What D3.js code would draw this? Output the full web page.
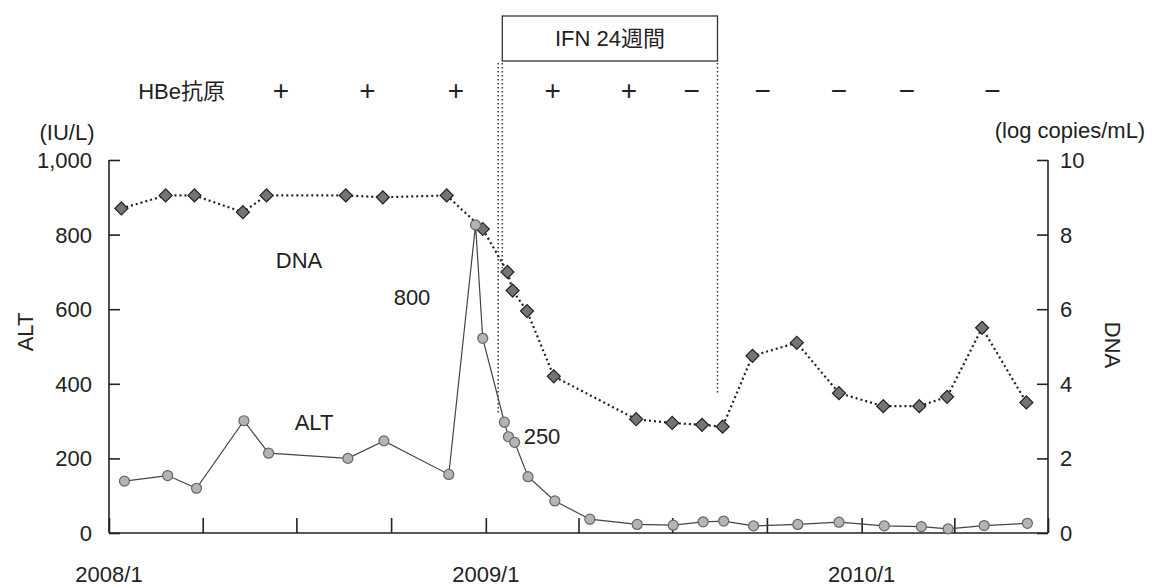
<!DOCTYPE html>
<html>
<head>
<meta charset="utf-8">
<script src="https://cdn.jsdelivr.net/npm/d3@7/dist/d3.min.js"></script>
<style>
  html, body { margin: 0; padding: 0; background: #fff; }
  svg text { font-family: "Liberation Sans", Arial, "Noto Sans CJK JP", sans-serif; fill: #222; }
</style>
</head>
<body>
<svg id="chart" width="1152" height="587"></svg>
<script>
// ---- data ----
const altDates = ["2008-01-16","2008-02-27","2008-03-26","2008-05-11","2008-06-04","2008-08-20","2008-09-24","2008-11-26","2008-12-22","2008-12-29","2009-01-19","2009-01-23","2009-01-29","2009-02-11","2009-03-09","2009-04-12","2009-05-28","2009-07-02","2009-07-31","2009-08-20","2009-09-18","2009-10-31","2009-12-10","2010-01-23","2010-02-28","2010-03-26","2010-04-30","2010-06-11"];
const altValues = [139,154,120,301,214,200,247,157,826,522,297,258,243,151,86,37,23,21,30,32,19,23,29,19,17,11,20,26];
const dnaDates = ["2008-01-13","2008-02-25","2008-03-24","2008-05-10","2008-06-02","2008-08-18","2008-09-23","2008-11-24","2008-12-29","2009-01-22","2009-01-27","2009-02-10","2009-03-08","2009-05-27","2009-07-01","2009-07-30","2009-08-19","2009-09-17","2009-10-30","2009-12-10","2010-01-22","2010-02-26","2010-03-25","2010-04-28","2010-06-10"];
const dnaValues = [8.7,9.05,9.05,8.6,9.05,9.05,9.0,9.05,8.15,7.0,6.5,5.95,4.2,3.05,2.95,2.9,2.85,4.75,5.1,3.75,3.4,3.4,3.65,5.5,3.5];
const hbeDates = ["2008-06-16","2008-09-08","2008-12-03","2009-03-07","2009-05-20","2009-07-20","2009-09-27","2009-12-10","2010-02-14","2010-05-08"];
const hbeSigns = ["+","+","+","+","+","−","−","−","−","−"];
const ifnStartDates = ["2009-01-13","2009-01-17"];
const ifnEndDate = "2009-08-14";
const altTicks = [0,200,400,600,800,1000];
const dnaTicks = [0,2,4,6,8,10];
const yearLabels = ["2008/1","2009/1","2010/1"];

// ---- setup ----
const parse = d3.timeParse("%Y-%m-%d");
const svg = d3.select("#chart");
const L = 109, R = 1048, T = 160, B = 533;
const x = d3.scaleTime().domain([new Date(2008,0,1), new Date(2010,6,1)]).range([L, R]);
const yA = d3.scaleLinear().domain([0,1000]).range([B, T]);
const yD = d3.scaleLinear().domain([0,10]).range([B, T]);
const FS = 22;

// axes
const axisColor = "#222";
const leftAxis = d3.axisRight(yA).tickValues(altTicks).tickSize(11).tickFormat("");
const gl = svg.append("g").attr("transform", `translate(${L},0)`).call(leftAxis);
const rightAxis = d3.axisLeft(yD).tickValues(dnaTicks).tickSize(11).tickFormat("");
const gr = svg.append("g").attr("transform", `translate(${R},0)`).call(rightAxis);
const monthTicks = d3.timeMonth.every(3).range(new Date(2008,0,1), new Date(2010,7,1));
const bottomAxis = d3.axisTop(x).tickValues(monthTicks).tickSize(15).tickFormat("");
const gb = svg.append("g").attr("transform", `translate(0,${B})`).call(bottomAxis);
[gl, gr, gb].forEach(g => {
  g.select(".domain").attr("stroke", axisColor).attr("stroke-width", 1.6);
  g.selectAll(".tick line").attr("stroke", axisColor).attr("stroke-width", 1.6);
});
gb.select(".domain").attr("d", `M${L},0H${R}`);
gl.select(".domain").attr("d", `M0,${T}V${B}`);
gr.select(".domain").attr("d", `M0,${T}V${B}`);

// tick labels
const fmt = d3.format(",");
svg.append("g").selectAll("text").data(altTicks).join("text")
  .attr("x", 92).attr("y", d => yA(d)).attr("dy", "0.36em")
  .attr("text-anchor", "end").attr("font-size", FS).text(d => fmt(d));
svg.append("g").selectAll("text").data(dnaTicks).join("text")
  .attr("x", 1060).attr("y", d => yD(d)).attr("dy", "0.36em")
  .attr("text-anchor", "start").attr("font-size", FS).text(d => d);
svg.append("g").selectAll("text").data(yearLabels).join("text")
  .attr("x", (d, i) => x(new Date(2008 + i, 0, 1))).attr("y", 574).attr("dy", "0.36em")
  .attr("text-anchor", "middle").attr("font-size", FS).text(d => d);

// units & axis titles
svg.append("text").attr("x", 67).attr("y", 132).attr("dy","0.36em").attr("text-anchor","middle").attr("font-size", FS).text("(IU/L)");
svg.append("text").attr("x", 1070).attr("y", 130).attr("dy","0.36em").attr("text-anchor","middle").attr("font-size", FS).text("(log copies/mL)");
svg.append("text").attr("transform", "translate(25,332) rotate(-90)").attr("dy","0.36em").attr("text-anchor","middle").attr("font-size", FS).text("ALT");
svg.append("text").attr("transform", "translate(1113,345) rotate(90)").attr("dy","0.36em").attr("text-anchor","middle").attr("font-size", FS).text("DNA");

// IFN box and lines
const boxX0 = x(parse(ifnStartDates[1])), boxX1 = x(parse(ifnEndDate));
svg.append("rect").attr("x", boxX0).attr("y", 16).attr("width", boxX1 - boxX0).attr("height", 45)
  .attr("fill", "none").attr("stroke", "#333").attr("stroke-width", 1.3);
svg.append("text").attr("x", (boxX0 + boxX1) / 2).attr("y", 38).attr("dy","0.36em")
  .attr("text-anchor","middle").attr("font-size", FS).text("IFN 24週間");
const vlines = [
  {d: ifnStartDates[0], y1: 63, y2: 415},
  {d: ifnStartDates[1], y1: 63, y2: 268},
  {d: ifnEndDate, y1: 63, y2: 395}
];
svg.append("g").selectAll("line").data(vlines).join("line")
  .attr("x1", v => x(parse(v.d))).attr("x2", v => x(parse(v.d)))
  .attr("y1", v => v.y1).attr("y2", v => v.y2)
  .attr("stroke", "#333").attr("stroke-width", 1.5).attr("stroke-dasharray", "1.5,2.5");

// HBe row
svg.append("text").attr("x", 225).attr("y", 91).attr("dy","0.36em").attr("text-anchor","end").attr("font-size", FS).text("HBe抗原");
svg.append("g").selectAll("text").data(hbeSigns).join("text")
  .attr("x", (d, i) => x(parse(hbeDates[i]))).attr("y", 90).attr("dy", "0.36em")
  .attr("text-anchor", "middle").attr("font-size", 28)
  .text(d => d);

// series
const alt = altDates.map((d, i) => ({date: parse(d), v: altValues[i]}));
const dna = dnaDates.map((d, i) => ({date: parse(d), v: dnaValues[i]}));

svg.append("path").datum(dna)
  .attr("d", d3.line().x(d => x(d.date)).y(d => yD(d.v)))
  .attr("fill", "none").attr("stroke", "#222").attr("stroke-width", 2.2).attr("stroke-dasharray", "2,3");
svg.append("path").datum(alt)
  .attr("d", d3.line().x(d => x(d.date)).y(d => yA(d.v)))
  .attr("fill", "none").attr("stroke", "#444").attr("stroke-width", 1.2);

const diamond = d3.symbol().type(d3.symbolSquare).size(85);
svg.append("g").selectAll("path").data(dna).join("path")
  .attr("d", diamond)
  .attr("transform", d => `translate(${x(d.date)},${yD(d.v)}) rotate(45)`)
  .attr("fill", "#747474").attr("stroke", "#222").attr("stroke-width", 1.2);
svg.append("g").selectAll("circle").data(alt).join("circle")
  .attr("cx", d => x(d.date)).attr("cy", d => yA(d.v)).attr("r", 5)
  .attr("fill", "#b4b4b4").attr("stroke", "#666").attr("stroke-width", 1.2);

// annotations
svg.append("text").attr("x", 299).attr("y", 260).attr("dy","0.36em").attr("text-anchor","middle").attr("font-size", FS).text("DNA");
svg.append("text").attr("x", 314).attr("y", 422).attr("dy","0.36em").attr("text-anchor","middle").attr("font-size", FS).text("ALT");
svg.append("text").attr("x", 412).attr("y", 297).attr("dy","0.36em").attr("text-anchor","middle").attr("font-size", FS).text("800");
svg.append("text").attr("x", 542).attr("y", 436).attr("dy","0.36em").attr("text-anchor","middle").attr("font-size", FS).text("250");
</script>
</body>
</html>
